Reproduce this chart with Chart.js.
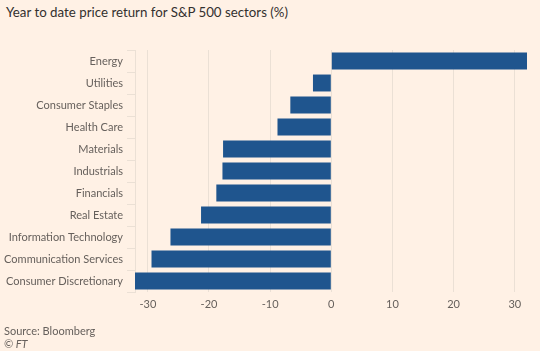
<!DOCTYPE html>
<html>
<head>
<meta charset="utf-8">
<script src="https://cdn.jsdelivr.net/npm/chart.js@4.4.0/dist/chart.umd.min.js"></script>
<style>
  html, body { margin: 0; padding: 0; background: #fff1e5; }
  body { width: 540px; height: 351px; position: relative; overflow: hidden; font-family: Lato, sans-serif; }
  #title { position: absolute; left: 6px; top: 4px; font-size: 13.3px; color: #33302e; }
  #source { position: absolute; left: 4px; top: 324px; font-size: 11px; color: #66605c; }
  #credit { position: absolute; left: 4px; top: 337px; font-size: 11px; color: #66605c; font-style: italic; }
  #chartWrap { position: absolute; left: 0; top: 0; width: 540px; height: 351px; }
</style>
</head>
<body>
<div id="title">Year to date price return for S&amp;P 500 sectors (%)</div>
<div id="chartWrap"><canvas id="barChart" width="540" height="351"></canvas></div>
<div id="source">Source: Bloomberg</div>
<div id="credit">© FT</div>
<script>
// Sectors, top to bottom
const sectors = [
  "Energy",
  "Utilities",
  "Consumer Staples",
  "Health Care",
  "Materials",
  "Industrials",
  "Financials",
  "Real Estate",
  "Information Technology",
  "Communication Services",
  "Consumer Discretionary",
];

// YTD price return (%)
const returns = [32.0, -3.0, -6.7, -8.8, -17.7, -17.8, -18.8, -21.3, -26.3, -29.4, -32.1];

const xTicks = [-30, -20, -10, 0, 10, 20, 30];

const textColor = "#66605c";
const gridColor = "#ebe0d5";

document.addEventListener("DOMContentLoaded", () => {
  initBarChart();
});

function initBarChart() {
  const ctx = document.getElementById("barChart").getContext("2d");

  new Chart(ctx, {
    type: "bar",
    data: {
      labels: sectors,
      datasets: [
        {
          label: "YTD return",
          data: returns,
          backgroundColor: "#1f558e",
          borderWidth: 0,
          barPercentage: 0.77,
          categoryPercentage: 1,
        },
      ],
    },
    options: {
      indexAxis: "y",
      responsive: false,
      animation: false,
      layout: {
        padding: { top: 50, right: 13, bottom: 35, left: 0 },
      },
      plugins: {
        legend: { display: false },
        tooltip: { enabled: false },
      },
      scales: {
        x: {
          min: Math.min(...returns),
          max: Math.max(...returns),
          afterBuildTicks: (scale) => {
            scale.ticks = xTicks.map((v) => ({ value: v }));
          },
          afterFit: (scale) => {
            scale.height = 24;
          },
          grid: {
            color: gridColor,
            drawTicks: false,
          },
          border: { display: false },
          ticks: {
            color: textColor,
            padding: 6,
            font: { family: "Lato", size: 11 },
          },
        },
        y: {
          afterFit: (scale) => {
            scale.width = 135;
          },
          grid: {
            drawOnChartArea: false,
            color: gridColor,
            tickLength: 8,
          },
          border: { display: true, color: gridColor },
          ticks: {
            color: textColor,
            padding: 4,
            font: { family: "Lato", size: 11 },
          },
        },
      },
    },
  });
}
</script>
</body>
</html>
